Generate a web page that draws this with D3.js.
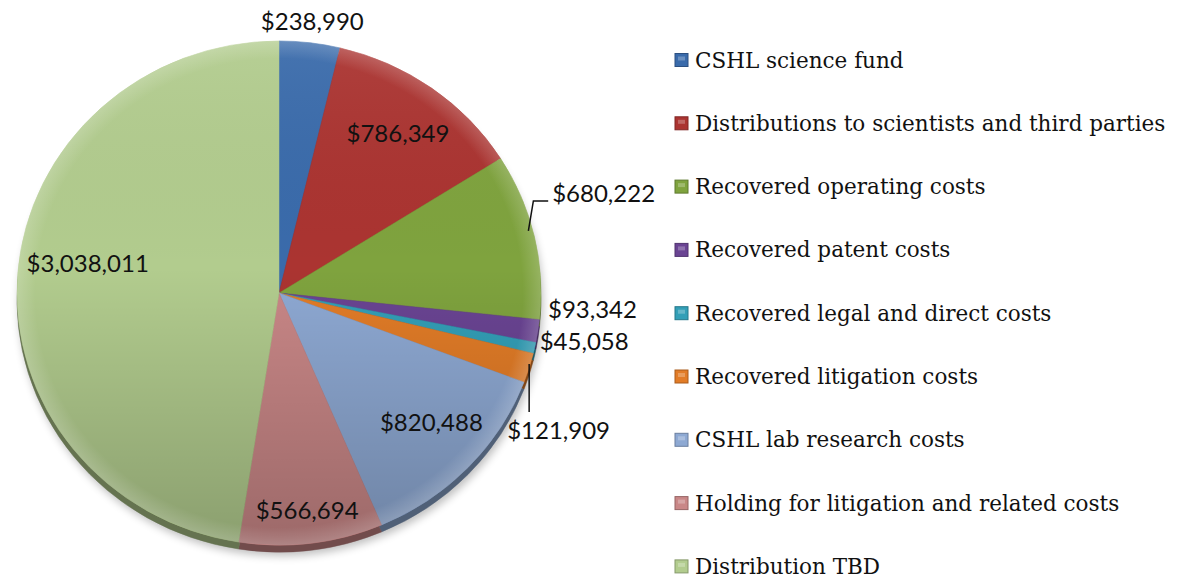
<!DOCTYPE html>
<html>
<head>
<meta charset="utf-8">
<script src="https://cdn.jsdelivr.net/npm/d3@7/dist/d3.min.js"></script>
<style>
  html, body { margin: 0; padding: 0; background: #fff; }
  svg { display: block; }
</style>
</head>
<body>
<div id="chart"></div>
<script>
// data, clockwise from 12 o'clock
var categories = [
  "CSHL science fund",
  "Distributions to scientists and third parties",
  "Recovered operating costs",
  "Recovered patent costs",
  "Recovered legal and direct costs",
  "Recovered litigation costs",
  "CSHL lab research costs",
  "Holding for litigation and related costs",
  "Distribution TBD"
]
var values = [238990, 786349, 680222, 93342, 45058, 121909, 820488, 566694, 3038011]

var colors = ["#3a6bab", "#ab3431", "#7fa33e", "#6a4493", "#339fb7", "#e27c27", "#8ea9d3", "#c98787", "#b2cc8e"]

// where each value label goes (r = fraction of radius at mid angle, then pixel nudge)
var labelLayout = [
  { r: 1.085, dx: 0, dy: 0, anchor: "middle" },
  { r: 0.78, dx: 0, dy: 0, anchor: "middle" },
  { r: 1.0, dx: 18, dy: -43, anchor: "start", leader: "elbow" },
  { r: 1.0, dx: 10, dy: -22, anchor: "start" },
  { r: 1.0, dx: 5, dy: -7, anchor: "start" },
  { r: 1.0, dx: -22, dy: 62, anchor: "start", leader: "down" },
  { r: 0.78, dx: 5, dy: -7, anchor: "middle" },
  { r: 0.87, dx: 0, dy: 0, anchor: "middle" },
  { r: 0.74, dx: 2, dy: -15, anchor: "middle" }
]

var width = 1177, height = 579
var cx = 279, cy = 293, rx = 262, ry = 252, depth = 7

var svg = d3.select("#chart").append("svg")
  .attr("width", width)
  .attr("height", height)

var defs = svg.append("defs")

var shadow = defs.append("filter").attr("id", "shadow")
  .attr("x", "-10%").attr("y", "-10%").attr("width", "120%").attr("height", "130%")
shadow.append("feGaussianBlur").attr("stdDeviation", 4)

var shade = defs.append("linearGradient").attr("id", "shade")
  .attr("x1", 0).attr("y1", 0).attr("x2", 0).attr("y2", 1)
shade.append("stop").attr("offset", "0%").attr("stop-color", "#fff").attr("stop-opacity", 0.06)
shade.append("stop").attr("offset", "45%").attr("stop-color", "#000").attr("stop-opacity", 0.0)
shade.append("stop").attr("offset", "100%").attr("stop-color", "#000").attr("stop-opacity", 0.22)

var rim = defs.append("radialGradient").attr("id", "rim")
  .attr("cx", "50%").attr("cy", "50%").attr("r", "50%")
rim.append("stop").attr("offset", "93%").attr("stop-color", "#fff").attr("stop-opacity", 0)
rim.append("stop").attr("offset", "100%").attr("stop-color", "#fff").attr("stop-opacity", 0.18)

var pie = d3.pie().sort(null).value(function(d) { return d })
var arcs = pie(values)

var arc = d3.arc().innerRadius(0).outerRadius(rx)

function pt(angle, f) {
  return [cx + rx * f * Math.sin(angle), cy - ry * f * Math.cos(angle)]
}

// soft shadow under the disc
svg.append("ellipse")
  .attr("cx", cx + 2).attr("cy", cy + depth + 4)
  .attr("rx", rx).attr("ry", ry)
  .attr("fill", "#000").attr("opacity", 0.25)
  .attr("filter", "url(#shadow)")

// side of the disc
svg.append("g")
  .attr("transform", "translate(" + cx + "," + (cy + depth) + ") scale(1," + (ry / rx) + ")")
  .selectAll("path")
  .data(arcs)
  .enter()
  .append("path")
  .attr("d", arc)
  .attr("fill", function(d, i) { return d3.color(colors[i]).darker(1.6) })
  .attr("stroke", function(d, i) { return d3.color(colors[i]).darker(1.6) })
  .attr("stroke-width", 0.5)

// top face
var face = svg.append("g")
  .attr("transform", "translate(" + cx + "," + cy + ") scale(1," + (ry / rx) + ")")

face.selectAll("path")
  .data(arcs)
  .enter()
  .append("path")
  .attr("d", arc)
  .attr("fill", function(d, i) { return colors[i] })
  .attr("stroke", function(d, i) { return colors[i] })
  .attr("stroke-width", 0.5)

face.append("circle").attr("r", rx).attr("fill", "url(#shade)")
face.append("circle").attr("r", rx).attr("fill", "url(#rim)")

// value labels
var fmt = d3.format("$,")

var labelG = svg.append("g")
  .style("font-family", "Lato, 'Open Sans', sans-serif")
  .style("font-size", "24px")
  .attr("fill", "#111")

arcs.forEach(function(d, i) {
  var L = labelLayout[i]
  var mid = (d.startAngle + d.endAngle) / 2
  var base = pt(mid, L.r)
  var tx = base[0] + L.dx, ty = base[1] + L.dy

  if (L.leader === "elbow") {
    var s = pt(mid, 0.985)
    labelG.append("path")
      .attr("d", "M" + (s[0] - 2) + "," + (s[1] - 6) + "L" + (s[0] + 3) + "," + (ty + 8) + "L" + (tx - 4) + "," + (ty + 8))
      .attr("fill", "none").attr("stroke", "#111").attr("stroke-width", 1.5)
  }
  if (L.leader === "down") {
    var s2 = pt(mid, 1.0)
    labelG.append("path")
      .attr("d", "M" + s2[0] + "," + (s2[1] - 4) + "L" + s2[0] + "," + (ty - 18))
      .attr("fill", "none").attr("stroke", "#111").attr("stroke-width", 1.5)
  }

  labelG.append("text")
    .attr("x", tx)
    .attr("y", ty)
    .attr("dy", "0.36em")
    .attr("text-anchor", L.anchor)
    .text(fmt(values[i]))
})

// legend
var legend = svg.append("g")
  .attr("class", "legend")
  .selectAll("g")
  .data(categories)
  .enter()
  .append("g")
  .attr("transform", function(d, i) { return "translate(675," + (60 + i * 63.3) + ")" })

legend.append("rect")
  .attr("x", 0).attr("y", -6.5)
  .attr("width", 13).attr("height", 13)
  .attr("fill", function(d, i) { return colors[i] })
  .attr("stroke", function(d, i) { return d3.color(colors[i]).darker(0.8) })
  .attr("stroke-width", 1)

legend.append("rect")
  .attr("x", 3).attr("y", -3.5)
  .attr("width", 7).attr("height", 4)
  .attr("fill", "#fff").attr("opacity", 0.25)

legend.append("text")
  .attr("x", 20)
  .attr("y", 0)
  .attr("dy", "0.35em")
  .style("font-family", "'DejaVu Serif', serif")
  .style("font-size", "21.5px")
  .attr("fill", "#111")
  .text(function(d) { return d })
</script>
</body>
</html>
